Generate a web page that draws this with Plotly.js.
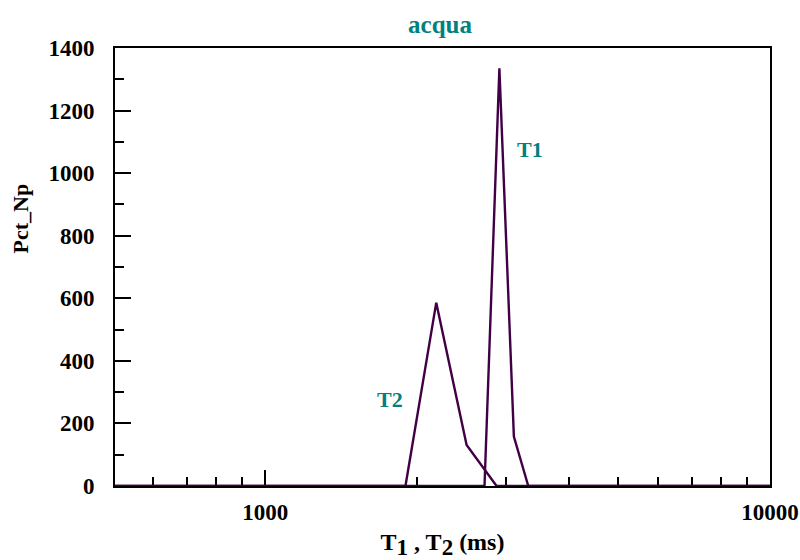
<!DOCTYPE html>
<html>
<head>
<meta charset="utf-8">
<script src="https://cdn.plot.ly/plotly-3.0.1.min.js"></script>
<style>html,body{margin:0;padding:0;background:#fff;}#chart{width:800px;height:560px;}</style>
</head>
<body>
<div id="chart"></div>
<script>
// T1 distribution (ms vs Pct_Np)
const t1X = [504, 2719, 2910, 3109, 3320, 10000];
const t1Y = [0, 0, 1335, 158, 0, 0];
// T2 distribution
const t2X = [504, 1896, 2182, 2506, 2873, 10000];
const t2Y = [0, 0, 586, 131, 0, 0];
const seriesNames = ["T1", "T2"];
const yTickVals = [0, 200, 400, 600, 800, 1000, 1200, 1400];
const xTickVals = [1000, 10000];
const xMinorVals = [600, 700, 800, 900, 2000, 3000, 4000, 5000, 6000, 7000, 8000, 9000];

const lineColor = "#410046";
const teal = "#008080";
const serif = "Liberation Serif, Times New Roman, serif";

const traces = [
  {x: t1X, y: t1Y, name: seriesNames[0], mode: "lines", line: {color: lineColor, width: 2.4}},
  {x: t2X, y: t2Y, name: seriesNames[1], mode: "lines", line: {color: lineColor, width: 2.4}}
];

const subBig = (d) => '<sub><span style="font-size:23px">' + d + '</span></sub>';

const layout = {
  width: 800, height: 560,
  margin: {l: 115, r: 30, t: 48, b: 74},
  paper_bgcolor: "#fff", plot_bgcolor: "#fff",
  showlegend: false,
  font: {family: serif, size: 22, color: "#000", weight: "bold"},
  title: {text: "acqua", font: {family: serif, size: 25, color: teal, weight: "bold"},
          x: 0.55, xanchor: "center", y: 0.957, yanchor: "middle"},
  xaxis: {
    type: "log", range: [Math.log10(504), 4],
    tickmode: "array", tickvals: xTickVals, ticktext: xTickVals.map(String),
    ticks: "inside", ticklen: 16, tickwidth: 2, tickcolor: "#000",
    minor: {tickmode: "array", tickvals: xMinorVals, ticks: "inside", ticklen: 9, tickwidth: 2, tickcolor: "#000"},
    showline: true, linecolor: "#000", linewidth: 2, mirror: true, layer: "below traces",
    showgrid: false, zeroline: false,
    tickfont: {family: serif, size: 23, weight: "bold"},
    ticklabelstandoff: 4,
    title: {text: "T" + subBig(1) + " , T" + subBig(2) + " (ms)", font: {family: serif, size: 24, weight: "bold"}, standoff: 10}
  },
  yaxis: {
    range: [0, 1400],
    tickmode: "array", tickvals: yTickVals,
    ticks: "inside", ticklen: 16, tickwidth: 2, tickcolor: "#000",
    minor: {dtick: 100, ticks: "inside", ticklen: 9, tickwidth: 2, tickcolor: "#000"},
    showline: true, linecolor: "#000", linewidth: 2, mirror: true, layer: "below traces",
    showgrid: false, zeroline: false,
    tickfont: {family: serif, size: 23, weight: "bold"},
    ticklabelstandoff: 14
  },
  annotations: [
    {x: -0.144, y: 0.61, xref: "paper", yref: "paper", text: "Pct_Np", textangle: -90, showarrow: false,
     xanchor: "center", yanchor: "middle", font: {family: serif, size: 22, color: "#000", weight: "bold"}},
    {x: 3.494, y: 1077, xref: "x", yref: "y", text: seriesNames[0], showarrow: false,
     xanchor: "left", yanchor: "middle", font: {family: serif, size: 22, color: teal, weight: "bold"}},
    {x: Math.log10(1652), y: 275, xref: "x", yref: "y", text: seriesNames[1], showarrow: false,
     xanchor: "left", yanchor: "middle", font: {family: serif, size: 22, color: teal, weight: "bold"}}
  ]
};

Plotly.newPlot("chart", traces, layout, {displayModeBar: false, staticPlot: true});
</script>
</body>
</html>
